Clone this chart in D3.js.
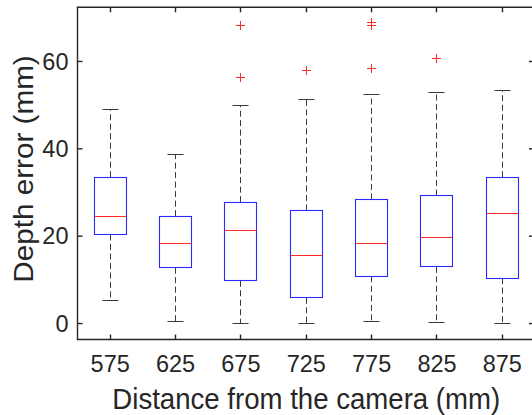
<!DOCTYPE html>
<html><head><meta charset="utf-8">
<script src="https://cdn.jsdelivr.net/npm/d3@7"></script>
<style>body{margin:0;background:#fff;}svg{display:block;}</style>
</head><body>
<script>
const categories = ["575","625","675","725","775","825","875"];
const whiskerLow  = [5.2, 0.45, 0.0, 0.0, 0.45, 0.15, 0.1];
const q1          = [20.4, 12.8, 9.8, 5.9, 10.8, 13.0, 10.4];
const medians     = [24.6, 18.4, 21.4, 15.6, 18.4, 19.8, 25.1];
const q3          = [33.5, 24.6, 27.8, 25.9, 28.4, 29.3, 33.5];
const whiskerHigh = [49.1, 38.8, 49.9, 51.2, 52.5, 53.0, 53.3];
const outliers = [[], [], [68.3, 56.3], [57.9], [68.9, 68.3, 58.3], [60.7], []];
const yTicks = [0, 20, 40, 60];

const W = 532, H = 415;
const margin = {left: 77.5, top: 7.3, right: 535, bottom: 339.5};
const svg = d3.select("body").append("svg").attr("width", W).attr("height", H);

const x = d3.scaleLinear().domain([0.5, 7.5]).range([margin.left, margin.right]);
const y = d3.scaleLinear().domain([-3.65, 72.4]).range([margin.bottom, margin.top]);
const axisColor = "#262626";
const font = "'Liberation Sans', Arial, Helvetica, sans-serif";
const snap = v => Math.round(v - 0.5) + 0.5;

const g = svg.append("g");
const boxHalf = 16, capHalf = 8;
const whiskColor = "#3a3a3a";

categories.forEach((c, i) => {
  const cx = snap(x(i + 1));
  g.append("line").attr("x1", cx).attr("x2", cx).attr("y1", y(q3[i])).attr("y2", y(whiskerHigh[i]))
    .attr("stroke", whiskColor).attr("stroke-width", 1).attr("stroke-dasharray", "6,3.5");
  g.append("line").attr("x1", cx).attr("x2", cx).attr("y1", y(q1[i])).attr("y2", y(whiskerLow[i]))
    .attr("stroke", whiskColor).attr("stroke-width", 1).attr("stroke-dasharray", "6,3.5");
  [whiskerHigh[i], whiskerLow[i]].forEach(v => {
    g.append("line").attr("x1", cx - capHalf).attr("x2", cx + capHalf).attr("y1", snap(y(v))).attr("y2", snap(y(v)))
      .attr("stroke", whiskColor).attr("stroke-width", 1);
  });
  const yt = snap(y(q3[i])), yb = snap(y(q1[i]));
  g.append("rect").attr("x", cx - boxHalf).attr("width", 2 * boxHalf)
    .attr("y", yt).attr("height", yb - yt)
    .attr("fill", "none").attr("stroke", "#2a2aff").attr("stroke-width", 1.1);
  const ym = snap(y(medians[i]));
  g.append("line").attr("x1", cx - boxHalf).attr("x2", cx + boxHalf).attr("y1", ym).attr("y2", ym)
    .attr("stroke", "#ff2a2a").attr("stroke-width", 1.1);
  outliers[i].forEach(v => {
    const py = snap(y(v));
    g.append("path").attr("d", `M${cx-4.5},${py}H${cx+4.5}M${cx},${py-4.5}V${py+4.5}`)
      .attr("stroke", "#ff2a2a").attr("stroke-width", 1).attr("fill", "none");
  });
});

const ax = svg.append("g").attr("stroke", axisColor).attr("stroke-width", 1.4).attr("fill", "none");
ax.append("line").attr("x1", margin.left - 0.7).attr("x2", W + 5).attr("y1", margin.top).attr("y2", margin.top);
ax.append("line").attr("x1", margin.left - 0.7).attr("x2", W + 5).attr("y1", margin.bottom).attr("y2", margin.bottom);
ax.append("line").attr("x1", margin.left).attr("x2", margin.left).attr("y1", margin.top).attr("y2", margin.bottom);
ax.append("line").attr("x1", margin.right).attr("x2", margin.right).attr("y1", margin.top).attr("y2", margin.bottom);

const tl = 5;
categories.forEach((c, i) => {
  const cx = snap(x(i + 1));
  ax.append("line").attr("x1", cx).attr("x2", cx).attr("y1", margin.bottom).attr("y2", margin.bottom - tl);
  ax.append("line").attr("x1", cx).attr("x2", cx).attr("y1", margin.top).attr("y2", margin.top + tl);
});
yTicks.forEach(v => {
  ax.append("line").attr("x1", margin.left).attr("x2", margin.left + tl).attr("y1", y(v)).attr("y2", y(v));
  ax.append("line").attr("x1", margin.right).attr("x2", margin.right - 6).attr("y1", y(v)).attr("y2", y(v));
});

const txt = svg.append("g").attr("fill", axisColor).attr("font-family", font);
categories.forEach((c, i) => {
  txt.append("text").attr("transform", `translate(${x(i + 1)},372) scale(1,0.98)`).attr("text-anchor", "middle")
    .attr("font-size", 23.5).text(c);
});
yTicks.forEach(v => {
  txt.append("text").attr("transform", `translate(68.5,${y(v) + 8.2}) scale(1,0.98)`).attr("text-anchor", "end")
    .attr("font-size", 23.5).text(v);
});
txt.append("text").attr("transform", `translate(${x(4)},409) scale(1,1.05)`).attr("text-anchor", "middle")
  .attr("font-size", 27.6).text("Distance from the camera (mm)");
txt.append("text").attr("transform", `translate(32.7,169) rotate(-90) scale(1.06,1)`)
  .attr("text-anchor", "middle").attr("font-size", 28).text("Depth error (mm)");
</script>
</body></html>
